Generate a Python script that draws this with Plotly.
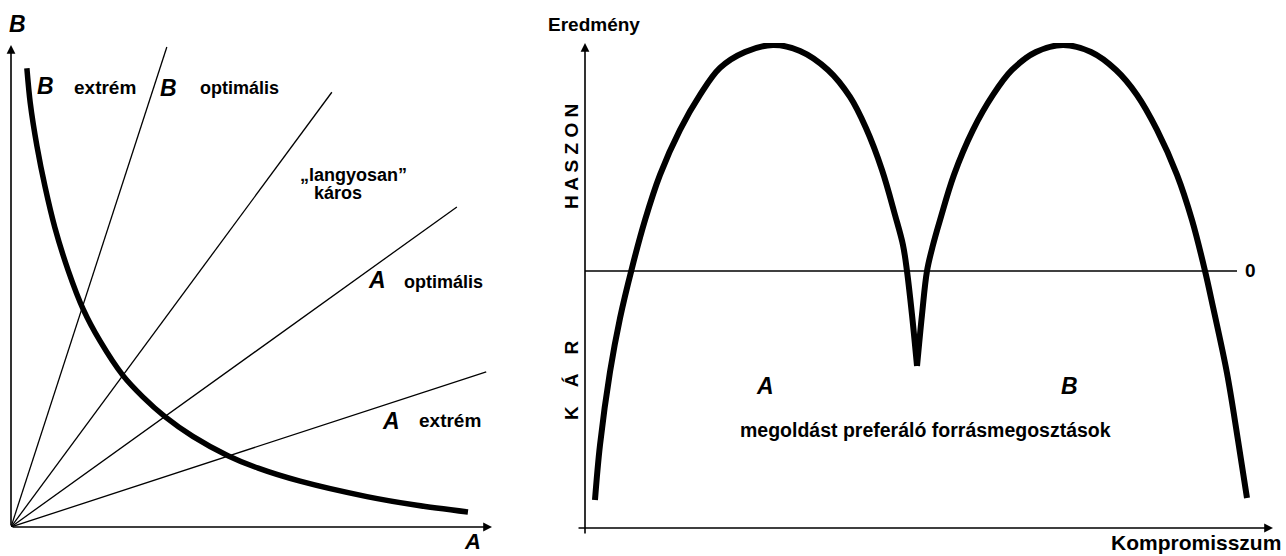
import plotly.graph_objects as go

W, H = 1286, 556
FONT = "Liberation Sans, Arial, sans-serif"

# ---------------- left panel data (A axis 0..100, B axis 0..100) ----------------
curve_a = [3.3, 4.0, 5.4, 7.1, 9.1, 11.9, 15.0, 18.5, 23.3, 27.4, 32.0, 37.8, 45.1, 51.4, 60.1, 74.0, 84.4, 95.0]
curve_b = [95.2, 88.0, 79.0, 70.5, 62.2, 53.2, 45.2, 38.6, 31.4, 27.0, 22.9, 18.8, 14.8, 12.2, 9.5, 6.3, 4.5, 3.1]
ray_end_a = [32.4, 66.7, 92.7, 98.8]
ray_end_b = [99.6, 90.2, 66.4, 32.2]

# ---------------- right panel data ----------------
arch1_x = [1.45, 2.18, 3.63, 5.09, 6.83, 8.72, 10.90, 13.81, 16.72, 19.62, 23.26, 27.33, 31.25,
           35.32, 38.52, 40.84, 43.17, 45.06, 46.22, 46.80, 47.53, 48.26]
arch1_y = [-89.1, -67.7, -39.3, -18.3, 1.2, 19.8, 37.4, 54.9, 68.5, 79.0, 85.2, 87.9, 85.6,
           78.2, 67.7, 55.6, 39.3, 21.8, 10.1, 0.0, -17.1, -37.0]
arch2_x = [48.26, 48.98, 49.71, 50.58, 51.60, 53.63, 56.40, 59.30, 62.06, 65.55, 69.48, 73.55,
           77.18, 80.23, 83.14, 86.05, 88.23, 90.12, 91.28, 93.31, 94.91, 96.22]
arch2_y = [-37.0, -17.1, 0.0, 10.1, 19.8, 37.4, 54.9, 68.5, 78.2, 85.2, 87.9, 85.2,
           78.2, 68.5, 54.9, 37.4, 19.8, 0.0, -14.0, -39.7, -65.8, -88.3]
zero_line_x = [0, 94.77]
zero_line_y = [0, 0]

fig = go.Figure()

for ea, eb in zip(ray_end_a, ray_end_b):
    fig.add_trace(go.Scatter(x=[0, ea], y=[0, eb], mode="lines",
                             line=dict(color="black", width=1.3),
                             xaxis="x", yaxis="y", hoverinfo="skip", showlegend=False))
fig.add_trace(go.Scatter(x=curve_a, y=curve_b, mode="lines",
                         line=dict(color="black", width=5.5, shape="spline", smoothing=0.8),
                         xaxis="x", yaxis="y", hoverinfo="skip", showlegend=False))

fig.add_trace(go.Scatter(x=zero_line_x, y=zero_line_y, mode="lines",
                         line=dict(color="black", width=1.3),
                         xaxis="x2", yaxis="y2", hoverinfo="skip", showlegend=False))
for xs, ys in ((arch1_x, arch1_y), (arch2_x, arch2_y)):
    fig.add_trace(go.Scatter(x=xs, y=ys, mode="lines",
                             line=dict(color="black", width=6, shape="spline"),
                             xaxis="x2", yaxis="y2", hoverinfo="skip", showlegend=False))

ann = []
def arrow(xref, yref, x0, y0, x1, y1):
    ann.append(dict(x=x1, y=y1, ax=x0, ay=y0, xref=xref, yref=yref, axref=xref, ayref=yref,
                    text="", showarrow=True, arrowhead=2, arrowsize=1.1, arrowwidth=1.6,
                    arrowcolor="black", standoff=0, startstandoff=0))

arrow("x", "y", 0, 0, 100, 0)
arrow("x", "y", 0, 0, 0, 100)
arrow("x2", "y2", -1.16, -100, 100, -100)
arrow("x2", "y2", 0, -102.7, 0, 88.7)

def txt(xref, yref, x, y, t, size, xanchor="center", angle=0, bold=True):
    ann.append(dict(x=x, y=y, xref=xref, yref=yref, text=t, showarrow=False,
                    xanchor=xanchor, yanchor="middle", textangle=angle,
                    font=dict(family=FONT, size=size, color="black",
                              weight="bold" if bold else "normal")))

def ptxt(px, py, t, size, xanchor="center", angle=0, bold=True):
    txt("paper", "paper", px / W, 1 - py / H, t, size, xanchor, angle, bold)

# left texts
ptxt(17, 24, "<i>B</i>", 23)
ptxt(472, 541, "<i>A</i>", 22)
txt("x", "y", 7.07, 91.5, "<i>B</i>", 23)
txt("x", "y", 12.7, 91.1, "extrém", 19, "left")
txt("x", "y", 32.8, 91.1, "<i>B</i>", 23)
txt("x", "y", 38.9, 91.1, "optimális", 18, "left")
txt("x", "y", 59.7, 73.0, "„langyosan”", 18, "left")
txt("x", "y", 62.6, 69.3, "káros", 18, "left")
txt("x", "y", 76.1, 51.2, "<i>A</i>", 23)
txt("x", "y", 81.3, 50.8, "optimális", 18, "left")
txt("x", "y", 79.0, 22.0, "<i>A</i>", 23)
txt("x", "y", 84.4, 22.0, "extrém", 19, "left")

# right texts
ptxt(594, 25, "Eredmény", 19)
ptxt(571, 157, "H A S Z O N", 19, angle=-90)
ptxt(571, 381, "K\u2003Á\u2003R", 19, angle=-90)
txt("x2", "y2", 26.16, -44.7, "<i>A</i>", 23)
txt("x2", "y2", 70.49, -44.7, "<i>B</i>", 23)
txt("x2", "y2", 49.56, -61.9, "megoldást preferáló forrásmegosztások", 19.5)
txt("x2", "y2", 96.66, 0, "0", 19)
ptxt(1283, 542, "Kompromisszum", 21, "right", bold=True)

axis_common = dict(showgrid=False, zeroline=False, showline=False, showticklabels=False,
                   ticks="", fixedrange=True)

fig.update_layout(
    width=W, height=H,
    margin=dict(l=0, r=0, t=0, b=0),
    paper_bgcolor="white", plot_bgcolor="white",
    showlegend=False,
    xaxis=dict(domain=[11 / W, 492 / W], range=[0, 100], anchor="y", **axis_common),
    yaxis=dict(domain=[1 - 527 / H, 1 - 45 / H], range=[0, 100], anchor="x", **axis_common),
    xaxis2=dict(domain=[585 / W, 1273 / W], range=[0, 100], anchor="y2", **axis_common),
    yaxis2=dict(domain=[1 - 528 / H, 1 - 43 / H], range=[-100, 88.7], anchor="x2", **axis_common),
    annotations=ann,
)

fig.write_html("out.html", config={"displayModeBar": False},
               post_script="document.body.style.margin='0';document.body.style.overflow='hidden';")
